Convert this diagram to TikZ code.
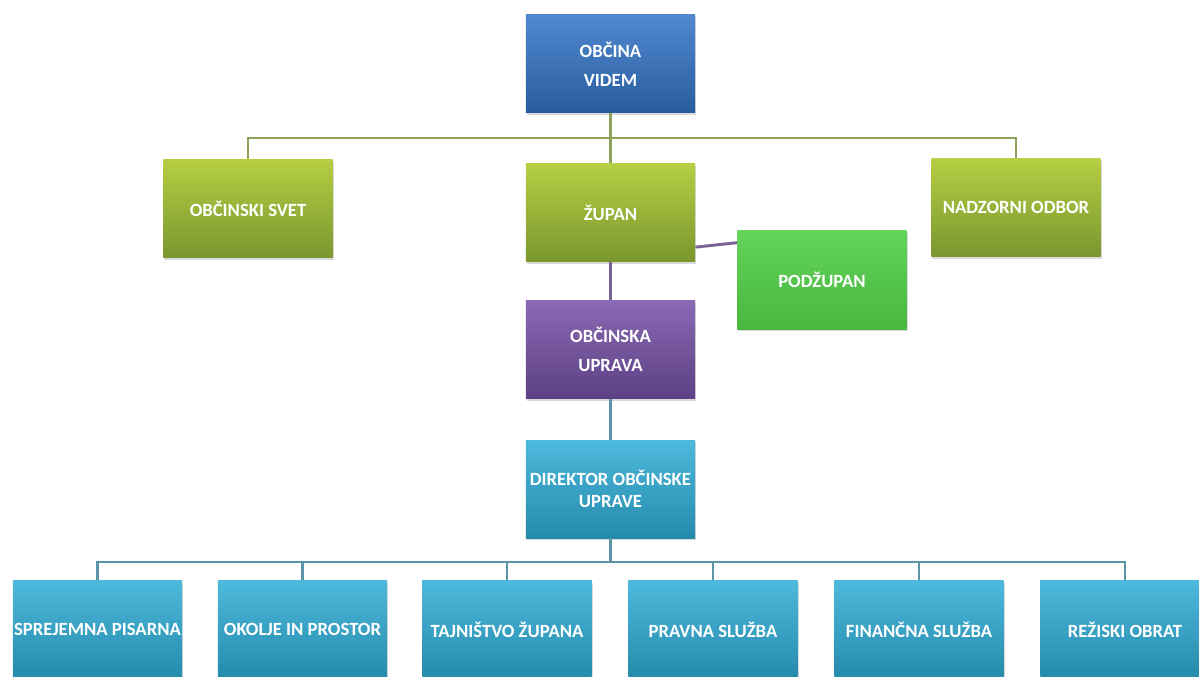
\documentclass[tikz,border=0pt]{standalone}
\usepackage{fontspec}
\setmainfont{Carlito}
\usetikzlibrary{positioning,shadows}

\definecolor{vidblue}{HTML}{3273C6}
\definecolor{olive}{HTML}{99BC3A}
\definecolor{lime}{HTML}{52CF48}
\definecolor{violet}{HTML}{7550A6}
\definecolor{cyanbox}{HTML}{2EADD6}

\begin{document}
\begin{tikzpicture}[x=0.75pt, y=-0.75pt,
    unit/.style={minimum width=127pt, minimum height=73.5pt, inner sep=0pt, align=center,
        text=white, font=\fontsize{14}{17}\selectfont\bfseries,
        drop shadow={opacity=0.3, shadow xshift=0.8pt, shadow yshift=-1.6pt}},
    head/.style={unit, top color=vidblue!85!white, bottom color=vidblue!80!black},
    council/.style={unit, top color=olive!80!yellow!90!white, bottom color=olive!80!black},
    deputy/.style={unit, top color=lime!90!white, bottom color=lime!88!black},
    office/.style={unit, top color=violet!85!white, bottom color=violet!80!black},
    dept/.style={unit, top color=cyanbox!85!white, bottom color=cyanbox!80!black},
    link/.style={line width=2.2pt, draw=#1},
    link/.default={gray}
]
\useasboundingbox (0,0) rectangle (1199,677);

% Top
\node[head] (obcina) at (610.5, 64) {OBČINA\\[5pt]VIDEM};

% Row 1: council, mayor, supervisory board
\node[council] (svet) at (248, 208.5) {OBČINSKI SVET};
\node[council] (zupan) at (610.5, 212.5) {ŽUPAN};
\node[council] (nadzor) at (1016, 207.5) {NADZORNI ODBOR};

% Deputy mayor
\node[deputy] (podzupan) at (822, 280) {PODŽUPAN};

% Administration
\node[office] (uprava) at (610.5, 349.5) {OBČINSKA\\[5pt]UPRAVA};
\node[dept] (direktor) at (610.5, 489) {DIREKTOR OBČINSKE\\UPRAVE};

% Row 3: departments
\node[dept] (pisarna) at (97.5, 629.5) {SPREJEMNA PISARNA};
\node[dept] (okolje) at (302.5, 629.5) {OKOLJE IN PROSTOR};
\node[dept] (tajnistvo) at (507, 629.5) {TAJNIŠTVO ŽUPANA};
\node[dept] (pravna) at (713, 629.5) {PRAVNA SLUŽBA};
\node[dept] (financna) at (919, 629.5) {FINANČNA SLUŽBA};
\node[dept] (rezijski) at (1125, 629.5) {REŽISKI OBRAT};

% Bus lines
\coordinate (bustop) at (610.5, 138);
\coordinate (busdept) at (610.5, 562);

\draw[link=olive!55!gray] (obcina.south) -- (zupan.north);
\draw[link=olive!55!gray] (svet.north) -- (svet.north |- bustop) -- (nadzor.north |- bustop) -- (nadzor.north);

\draw[link=violet!60!gray] ([yshift=-26pt]zupan.east) -- ([yshift=28pt]podzupan.west);
\draw[link=violet!60!gray] (zupan.south) -- (uprava.north);
\draw[link=cyanbox!45!gray] (uprava.south) -- (direktor.north);

\draw[link=cyanbox!45!gray] (direktor.south) -- (busdept);
\draw[link=cyanbox!45!gray] (pisarna.north) -- (pisarna.north |- busdept) -- (rezijski.north |- busdept) -- (rezijski.north);
\draw[link=cyanbox!45!gray] (okolje.north) -- (okolje.north |- busdept);
\draw[link=cyanbox!45!gray] (tajnistvo.north) -- (tajnistvo.north |- busdept);
\draw[link=cyanbox!45!gray] (pravna.north) -- (pravna.north |- busdept);
\draw[link=cyanbox!45!gray] (financna.north) -- (financna.north |- busdept);

\end{tikzpicture}
\end{document}
